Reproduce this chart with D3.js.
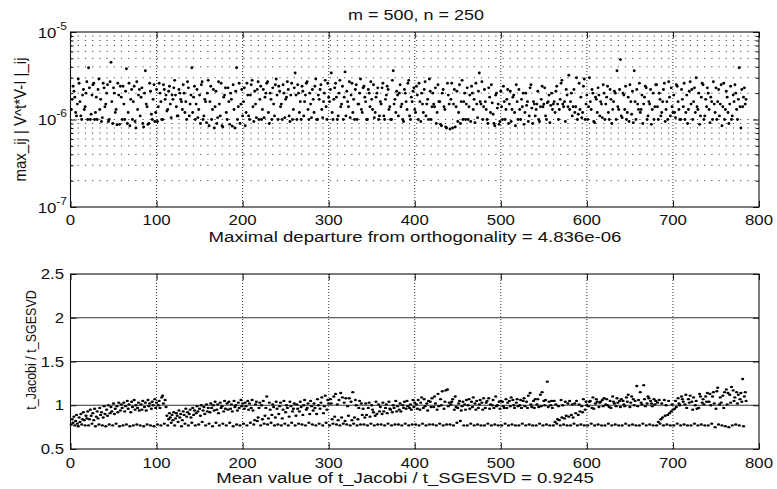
<!DOCTYPE html>
<html>
<head>
<meta charset="utf-8">
<script src="https://cdn.jsdelivr.net/npm/d3@7"></script>
<style>
body{margin:0;background:#fff;}
text{font-family:"Liberation Sans",Arial,sans-serif;fill:#111;}
</style>
</head>
<body>
<svg id="fig" width="777" height="489"></svg>
<script>
// run index of every sample (one dot per run, runs 1..785)
const runs = d3.range(1, 786);

// max_ij |V^t*V - I|_ij for each run, in units of 1e-6
const departureE6 = [
  1.3,1.7,2.4,2.1,1.8,1.2,1.1,1.5,2.9,2.6,1.6,1.1,1.0,1.9,2.2,1.3,1.4,2.0,2.7,1.0,
  3.9,2.3,1.0,1.15,1.9,2.5,2.6,1.0,1.2,1.8,1.0,2.2,2.9,1.3,1.7,0.95,1.05,2.6,2.3,1.4,
  1.5,2.0,2.5,0.95,1.0,2.7,4.5,1.6,0.9,2.3,2.0,1.2,1.3,0.87,2.6,1.9,0.88,2.4,1.8,1.0,
  2.4,1.5,1.0,2.1,3.8,0.9,1.2,2.6,0.85,1.7,2.2,1.0,1.6,2.4,0.95,0.8,2.7,1.3,1.9,2.2,
  1.1,1.8,2.3,0.9,0.82,2.0,3.6,1.5,1.4,0.88,0.9,2.6,2.1,1.15,1.0,1.7,2.5,0.95,1.2,2.2,
  0.95,1.4,2.6,2.0,1.6,1.0,1.0,2.5,2.2,1.7,1.9,1.25,1.3,2.1,2.4,1.5,1.05,1.9,1.7,2.3,
  2.8,1.9,1.4,1.1,1.1,2.2,2.0,1.7,1.6,1.3,2.5,2.0,1.2,1.6,1.0,2.7,2.3,1.1,1.5,1.9,
  3.9,1.2,1.8,2.4,1.0,1.5,2.2,1.05,1.3,1.9,0.9,2.5,2.7,1.0,1.1,1.7,1.6,0.92,2.0,2.8,
  0.85,1.6,2.4,1.0,1.3,2.2,0.8,1.4,2.1,0.9,1.05,2.7,1.5,1.1,2.6,0.85,0.82,1.8,1.9,2.3,
  1.2,1.0,2.3,1.6,0.88,2.0,1.7,0.84,2.5,1.3,0.8,2.1,3.9,1.0,1.4,2.6,0.9,1.5,2.2,1.1,
  1.6,2.3,0.85,1.2,2.6,1.9,1.1,1.0,1.9,2.5,2.8,1.4,0.95,2.1,1.5,1.05,2.2,2.7,1.0,1.7,
  2.4,1.0,1.3,2.2,1.05,1.8,2.0,2.6,2.7,1.2,0.9,2.0,1.7,1.0,2.3,1.5,1.1,2.5,2.9,1.9,
  1.0,2.4,2.1,1.4,1.5,1.0,2.5,2.0,1.05,1.7,1.8,2.7,2.2,1.1,0.95,1.9,2.6,1.0,1.3,2.3,
  3.4,1.9,1.0,2.5,2.0,1.2,1.6,1.0,2.4,2.1,1.1,1.6,1.9,2.6,2.7,1.3,1.0,2.0,1.5,1.05,
  2.2,1.7,1.2,2.4,2.9,1.0,1.0,1.9,1.7,2.2,2.5,1.3,1.05,1.6,2.0,2.8,1.4,1.0,2.6,1.8,
  1.6,2.2,3.4,1.2,1.0,1.7,2.3,2.6,1.8,1.0,1.1,2.0,2.8,1.4,1.5,2.4,1.0,1.8,3.5,1.1,
  2.1,1.6,1.4,2.7,1.05,1.9,2.6,1.2,1.7,1.0,2.2,2.5,1.0,1.5,1.5,2.0,2.9,1.3,1.2,2.3,
  2.4,1.8,1.6,1.0,1.0,2.2,2.0,1.4,2.7,1.7,1.3,2.5,1.05,1.2,1.8,2.0,2.3,1.0,1.1,1.6,
  1.5,2.3,2.6,1.1,1.0,1.7,1.9,2.4,2.2,1.3,1.4,1.0,1.0,2.8,3.6,1.5,1.7,1.2,2.1,1.9,
  1.1,2.0,2.5,1.4,1.5,1.0,0.95,2.2,2.0,1.6,1.3,2.6,2.8,1.1,1.0,1.8,1.6,2.1,2.3,1.3,
  1.2,2.4,1.9,1.0,2.6,1.6,0.95,2.0,1.5,1.2,2.2,2.7,1.1,1.5,1.7,1.0,2.9,2.1,1.0,1.4,
  2.0,1.5,1.4,2.3,0.9,1.2,2.5,1.6,1.6,0.88,0.85,2.0,2.2,1.4,1.3,0.82,0.8,2.6,1.9,1.5,
  0.78,1.7,2.6,0.8,1.5,2.2,0.82,1.4,2.1,0.95,1.2,2.5,0.9,1.6,2.8,1.0,1.6,2.0,1.0,1.5,
  2.3,1.0,1.4,1.9,0.95,2.4,2.0,1.3,1.7,0.92,2.6,1.5,1.05,2.1,3.4,1.6,1.5,2.7,1.0,1.4,
  2.2,1.6,1.3,1.0,0.9,2.3,1.8,1.2,2.5,1.55,1.15,0.9,0.85,1.9,2.0,1.35,1.5,0.88,0.95,2.1,
  1.4,1.0,2.4,1.6,1.0,1.3,1.7,2.2,0.9,1.5,2.1,0.95,1.3,1.8,1.9,1.2,0.85,2.5,1.6,1.0,
  2.2,1.3,1.0,1.7,1.4,2.0,0.88,1.2,2.0,1.45,1.6,0.95,1.1,2.3,2.5,1.35,0.9,1.6,1.5,1.1,
  1.3,1.5,2.1,1.0,0.95,1.4,1.7,2.4,1.4,1.5,2.3,1.1,1.0,1.55,1.6,1.9,0.92,1.45,2.0,1.3,
  1.5,1.6,1.2,2.1,2.4,1.5,1.0,1.3,1.7,2.6,2.8,1.5,1.4,1.6,0.95,2.2,1.9,1.4,3.2,1.3,
  1.6,2.0,1.1,1.4,2.2,1.2,1.4,3.0,1.0,1.15,2.6,1.3,1.8,1.05,1.2,2.4,2.9,1.0,1.5,1.9,
  1.0,1.4,3.0,1.6,1.3,2.2,2.0,0.95,0.92,1.8,1.7,1.2,2.3,1.9,1.1,1.6,1.5,1.05,2.5,2.0,
  1.0,1.5,1.8,2.4,1.2,1.0,2.2,1.7,0.9,1.3,1.6,2.1,2.0,1.0,3.6,1.4,1.3,2.2,4.836,1.1,
  1.05,2.0,1.9,1.3,2.4,1.0,1.2,1.8,0.95,2.5,1.6,1.15,2.1,0.92,3.6,1.6,1.0,2.2,1.5,1.3,
  2.6,1.2,1.3,1.9,0.9,1.5,1.8,2.4,2.3,1.0,1.1,1.6,1.5,2.2,0.88,1.3,2.0,1.0,1.4,2.5,
  2.5,1.4,1.0,2.0,1.7,1.1,1.2,1.6,2.2,2.6,0.95,1.3,1.6,1.0,2.7,1.8,1.1,2.3,1.4,1.2,
  1.9,1.2,1.05,2.5,2.4,1.6,1.3,1.0,1.0,2.2,1.7,1.4,2.6,1.0,1.2,1.9,0.9,1.3,2.1,2.7,
  1.5,2.2,1.0,1.6,2.3,1.2,3.0,1.4,1.3,2.0,0.88,1.1,1.8,2.6,2.5,1.0,1.1,1.7,1.4,2.3,
  2.0,1.3,0.92,1.8,1.6,1.0,2.7,1.5,1.2,2.3,1.0,1.6,2.2,1.1,1.5,2.5,0.85,1.4,2.6,1.0,
  1.3,2.1,1.8,1.2,0.9,1.5,2.4,1.0,1.1,1.9,1.6,2.5,2.0,1.3,1.0,1.7,3.9,1.4,0.8,2.2,
  1.4,1.8,2.3,1.5,1.7
];

// t_Jacobi / t_SGESVD for each run
const timeRatio = [
  0.78,0.84,0.80,0.87,0.77,0.82,0.89,0.79,0.76,0.86,0.81,0.90,0.78,0.84,0.92,0.83,0.77,0.88,0.85,0.93,
  0.77,0.84,0.95,0.88,0.79,0.91,0.83,0.96,0.76,0.87,0.93,0.85,0.78,0.97,0.89,0.92,0.77,0.86,0.99,0.90,
  0.76,0.95,0.88,1.00,0.78,0.91,0.98,0.93,0.77,1.02,0.90,0.96,0.79,0.99,0.92,1.03,0.76,0.94,1.01,0.97,
  0.77,1.03,0.93,0.99,0.78,1.05,0.96,1.01,0.76,0.92,1.04,0.98,0.77,1.06,0.95,1.00,0.78,0.97,1.03,0.94,
  0.77,1.01,0.95,1.05,0.76,0.98,1.03,0.94,0.78,1.06,0.99,1.02,0.77,0.96,1.04,1.00,0.76,1.07,0.97,1.03,
  0.78,1.00,1.05,0.97,0.77,1.09,1.11,1.02,0.79,1.06,0.98,0.88,0.77,0.84,0.91,0.86,0.80,0.89,0.83,0.92,
  0.77,0.85,0.91,0.88,0.81,0.94,0.86,0.90,0.76,0.83,0.93,0.89,0.79,0.96,0.87,0.92,0.77,0.90,0.95,0.86,
  0.80,0.97,0.89,0.94,0.77,0.91,0.99,0.93,0.78,0.96,0.88,1.00,0.81,0.94,0.98,0.90,0.77,1.01,0.93,0.97,
  0.79,0.92,1.02,0.97,0.76,1.00,0.94,1.04,0.80,0.95,1.01,0.91,0.77,1.03,0.97,0.99,0.79,0.93,1.05,0.96,
  0.77,1.02,0.95,1.04,0.80,0.96,1.01,0.93,0.76,1.05,0.98,1.00,0.78,0.94,1.03,0.97,0.77,1.06,0.99,1.02,
  0.79,0.96,1.03,0.99,0.77,1.05,0.95,1.02,0.80,0.97,1.06,0.94,0.78,0.83,1.01,1.04,0.82,0.86,0.97,1.03,
  0.77,1.00,0.84,1.05,0.79,0.88,0.97,1.10,0.78,0.85,1.03,0.95,0.80,0.89,1.01,0.98,0.77,0.86,1.04,0.96,
  0.78,0.90,0.99,1.03,0.77,0.85,0.95,1.05,0.79,0.92,1.00,0.97,0.77,0.87,1.04,0.99,0.80,0.93,0.96,1.02,
  0.77,0.88,1.01,0.96,0.79,0.93,1.04,0.98,0.78,0.89,1.00,1.06,0.77,0.95,0.97,1.02,0.80,0.90,1.05,0.99,
  0.78,0.94,1.02,0.97,0.77,0.90,1.07,1.00,0.79,0.96,1.03,1.09,0.77,0.91,0.99,1.11,0.80,0.95,1.06,1.02,
  0.77,1.07,1.02,0.84,0.79,1.10,0.87,1.13,0.78,1.01,0.83,1.06,0.77,1.14,0.86,1.09,0.79,1.03,0.82,1.08,
  0.78,0.99,0.88,1.08,0.77,1.04,0.83,1.15,0.79,0.86,1.06,1.00,0.77,0.84,0.97,1.05,0.78,1.02,0.89,0.96,
  0.78,0.86,1.02,0.89,0.77,0.97,1.03,0.87,0.79,1.00,0.95,0.92,0.77,0.88,1.04,0.90,0.78,1.01,0.93,0.98,
  0.78,0.90,1.03,0.93,0.77,0.97,1.01,0.91,0.79,1.04,0.96,0.95,0.77,0.92,1.00,0.97,0.78,1.05,0.93,0.99,
  0.78,0.95,1.02,0.93,0.77,1.00,0.97,1.04,0.79,0.96,1.05,0.99,0.77,0.97,1.01,0.95,0.78,1.06,0.98,1.03,
  0.78,1.01,0.96,1.06,0.77,0.95,1.03,1.09,0.79,0.97,1.07,0.99,0.77,1.02,0.94,1.05,0.78,1.04,0.98,1.08,
  0.78,0.98,1.10,1.02,0.77,0.95,1.13,0.99,0.79,1.07,1.00,1.16,0.77,0.96,1.04,1.17,0.78,1.18,0.99,1.03,
  0.78,1.01,1.04,1.07,0.77,0.95,1.10,0.98,0.80,0.97,1.02,1.05,0.82,0.94,0.99,1.04,0.77,1.01,0.95,1.06,
  0.77,1.00,1.07,0.96,0.79,1.04,0.98,1.09,0.77,1.02,0.95,1.05,0.78,0.97,1.01,1.06,0.77,1.03,0.95,1.08,
  0.77,0.97,1.03,1.05,0.79,1.08,0.96,1.01,0.77,1.00,1.06,0.97,0.78,1.10,0.99,1.00,0.77,1.04,0.96,1.05,
  0.77,1.04,0.99,0.97,0.79,1.07,0.97,1.03,0.77,1.05,0.99,1.09,0.78,1.06,1.00,0.97,0.77,1.03,1.07,0.99,
  0.77,1.00,1.06,0.97,0.79,1.05,1.08,0.99,0.77,1.04,0.97,1.11,0.78,1.14,1.01,0.98,0.77,1.05,0.97,1.07,
  0.77,1.01,1.07,0.98,0.79,1.12,0.99,1.15,0.77,1.05,1.00,1.06,0.78,1.27,0.98,1.04,0.77,1.00,1.05,0.97,
  0.77,1.05,0.81,1.01,0.79,0.84,0.99,0.83,0.77,1.06,0.86,1.00,0.78,0.85,1.04,0.88,0.77,1.02,0.87,1.05,
  0.77,0.89,1.01,0.86,0.79,1.02,0.91,1.05,0.77,0.89,1.01,0.93,0.78,0.99,0.92,1.07,0.77,0.95,1.04,1.00,
  0.77,0.99,1.04,1.05,0.79,0.97,1.09,0.96,0.77,1.02,1.07,1.04,0.78,0.98,1.03,1.04,0.77,1.06,0.99,1.08,
  0.77,1.01,1.07,1.00,0.79,0.98,1.05,0.97,0.77,1.10,1.04,1.02,0.78,0.99,1.08,1.03,0.77,1.05,0.98,1.07,
  0.77,1.05,1.01,0.99,0.79,1.09,1.04,1.12,0.77,0.98,1.03,1.10,0.78,1.07,1.00,1.05,0.77,1.22,0.99,1.06,
  0.77,1.15,1.03,1.01,0.79,1.23,1.07,0.99,0.77,1.02,1.10,1.08,0.78,1.05,1.02,0.99,0.77,1.07,1.01,1.05,
  0.77,1.03,0.81,1.06,0.79,0.84,1.02,0.86,0.77,1.06,0.88,1.00,0.78,0.89,1.05,0.91,0.77,0.93,1.01,0.95,
  0.77,0.96,1.05,0.98,0.79,1.08,1.02,1.00,0.77,1.10,1.07,1.04,0.78,1.01,1.12,0.97,0.77,1.07,1.03,1.11,
  0.77,1.04,0.95,1.09,0.79,1.00,1.05,0.96,0.77,0.97,1.13,1.10,0.78,1.03,1.07,1.01,0.77,1.10,1.04,1.14,
  0.77,1.04,1.13,1.00,0.79,1.10,1.15,1.02,0.75,0.96,1.16,1.20,0.78,1.01,1.09,1.03,0.77,1.11,0.97,1.15,
  0.76,1.18,1.01,1.14,0.75,1.12,1.03,1.21,0.77,1.17,1.05,1.09,0.78,1.15,1.02,1.12,0.77,1.07,1.14,1.04,
  1.30,0.76,1.10,1.15,1.05
];

// tick labels
const xTickValues = [0,100,200,300,400,500,600,700,800];
const topTickValues = [1e-7,1e-6,1e-5];
const topTickExponents = ["-7","-6","-5"];
const botTickValues = [0.5,1,1.5,2,2.5];
const botTickLabels = ["0.5","1","1.5","2","2.5"];

const titleText = "m = 500, n = 250";
const topXLabel = "Maximal departure from orthogonality = 4.836e-06";
const topYLabel = "max_ij | V^t*V-I |_ij";
const botXLabel = "Mean value of t_Jacobi / t_SGESVD = 0.9245";
const botYLabel = "t_Jacobi / t_SGESVD";

const svg = d3.select("#fig");
const x = d3.scaleLinear().domain([0,800]).range([70.5,759]);
const yTop = d3.scaleLog().domain([1e-7,1e-5]).range([207,32]);
const yBot = d3.scaleLinear().domain([0.5,2.5]).range([449,274]);

// the scanned figure is stretched horizontally, so text is widened a bit
function label(txt, px, py, size, anchor){
  return svg.append("text")
    .attr("transform","translate("+px+","+py+") scale(1.2,1)")
    .attr("text-anchor",anchor)
    .style("font-size",size+"px")
    .text(txt);
}
function ylabel(txt, px, py, size){
  return svg.append("text")
    .attr("transform","translate("+px+","+py+") rotate(-90) scale(1,1.15)")
    .attr("text-anchor","middle")
    .style("font-size",size+"px")
    .text(txt);
}

// minor log values for the top panel grid
const topMinor = [];
[1e-7,1e-6].forEach(dec => { for(let k=2;k<=9;k++) topMinor.push(k*dec); });

function ticks(y, yTickVals, minorVals){
  const top = y.range()[1], bot = y.range()[0];
  const g = svg.append("g");
  g.append("g").attr("transform","translate(0,"+bot+")")
    .call(d3.axisBottom(x).tickValues(xTickValues).tickSize(-6).tickSizeOuter(0).tickFormat(""));
  g.append("g").attr("transform","translate(0,"+top+")")
    .call(d3.axisTop(x).tickValues(xTickValues).tickSize(-6).tickSizeOuter(0).tickFormat(""));
  g.append("g").attr("transform","translate("+x(0)+",0)")
    .call(d3.axisLeft(y).tickValues(yTickVals).tickSize(-6).tickSizeOuter(0).tickFormat(""));
  g.append("g").attr("transform","translate("+x(800)+",0)")
    .call(d3.axisRight(y).tickValues(yTickVals).tickSize(-6).tickSizeOuter(0).tickFormat(""));
  if(minorVals){
    g.append("g").attr("transform","translate("+x(0)+",0)")
      .call(d3.axisLeft(y).tickValues(minorVals).tickSize(-3).tickSizeOuter(0).tickFormat(""));
    g.append("g").attr("transform","translate("+x(800)+",0)")
      .call(d3.axisRight(y).tickValues(minorVals).tickSize(-3).tickSizeOuter(0).tickFormat(""));
  }
  g.selectAll(".domain").remove();
  g.selectAll(".tick line").attr("stroke","#111");
  svg.append("rect")
    .attr("x",x(0)).attr("y",top)
    .attr("width",x(800)-x(0)).attr("height",bot-top)
    .attr("fill","none").attr("stroke","#111").attr("stroke-width",1.1);
}

// ---------- top panel ----------
svg.append("g").selectAll("line")
  .data(topMinor.concat([1e-6]))
  .join("line")
  .attr("x1",x(0)).attr("x2",x(800))
  .attr("y1",d=>yTop(d)).attr("y2",d=>yTop(d))
  .attr("stroke","#444").attr("stroke-width",1)
  .attr("stroke-dasharray","1.2,6");
svg.append("g").selectAll("line")
  .data(xTickValues.slice(1,-1))
  .join("line")
  .attr("x1",d=>x(d)).attr("x2",d=>x(d))
  .attr("y1",yTop(1e-5)).attr("y2",yTop(1e-7))
  .attr("stroke","#333").attr("stroke-width",1)
  .attr("stroke-dasharray","1,2");

svg.append("g").selectAll("circle")
  .data(runs)
  .join("circle")
  .attr("cx",d=>x(d))
  .attr("cy",(d,i)=>yTop(departureE6[i]*1e-6))
  .attr("r",1.45)
  .attr("fill","#000");

ticks(yTop, topTickValues, topMinor);

// ---------- bottom panel ----------
svg.append("g").selectAll("line")
  .data([1,1.5,2])
  .join("line")
  .attr("x1",x(0)).attr("x2",x(800))
  .attr("y1",d=>yBot(d)).attr("y2",d=>yBot(d))
  .attr("stroke","#333").attr("stroke-width",1.2);
svg.append("g").selectAll("line")
  .data(xTickValues.slice(1,-1))
  .join("line")
  .attr("x1",d=>x(d)).attr("x2",d=>x(d))
  .attr("y1",yBot(2.5)).attr("y2",yBot(0.5))
  .attr("stroke","#333").attr("stroke-width",1)
  .attr("stroke-dasharray","1,2");

svg.append("g").selectAll("ellipse")
  .data(runs)
  .join("ellipse")
  .attr("cx",d=>x(d))
  .attr("cy",(d,i)=>yBot(timeRatio[i]))
  .attr("rx",1.6).attr("ry",1.2)
  .attr("fill","#000");

ticks(yBot, botTickValues, null);

// ---------- texts ----------
label(titleText, 416, 20, 15, "middle");

xTickValues.forEach(v => {
  label(String(v), x(v), 225, 14, "middle");
  label(String(v), x(v), 468, 14, "middle");
});

topTickValues.forEach((v,i) => {
  const t = svg.append("text")
    .attr("transform","translate(67,"+(yTop(v)+5.5)+") scale(1.2,1)")
    .attr("text-anchor","end")
    .style("font-size","14px");
  t.append("tspan").text("10");
  t.append("tspan").attr("dy",-8).style("font-size","10px").text(topTickExponents[i]);
});
botTickValues.forEach((v,i) => {
  label(botTickLabels[i], 64, yBot(v)+5, 14, "end");
});

label(topXLabel, 415, 242, 15.5, "middle");
label(botXLabel, 405, 483, 15.5, "middle");
ylabel(topYLabel, 26, 119.5, 15);
ylabel(botYLabel, 36, 350, 12.5);
</script>
</body>
</html>
